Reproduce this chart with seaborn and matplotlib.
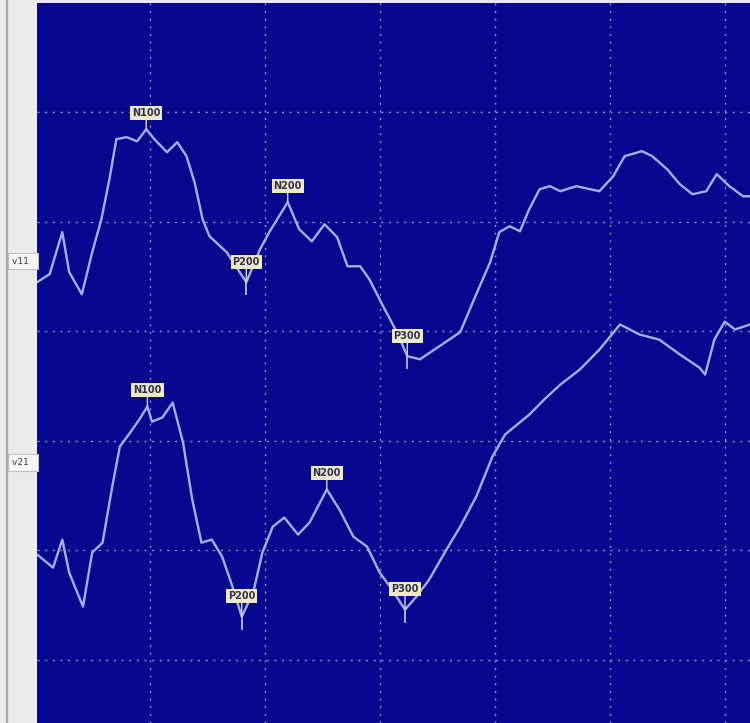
import numpy as np
import pandas as pd
import matplotlib.pyplot as plt
import matplotlib.transforms as mtransforms
from matplotlib.lines import Line2D
import seaborn as sns

# Channel v11: time (ms) and amplitude (uV, negative up)
v11_ms = [2, 13, 24, 30, 41, 50, 58, 65, 71, 80, 89, 97, 104, 115, 124, 132, 139, 146,
          152, 167, 184, 196, 204, 220, 230, 241, 252, 263, 272, 283, 291, 303, 315, 324,
          335, 352, 370, 381, 396, 404, 413, 422, 430, 439, 448, 457, 471, 483, 491, 503,
          513, 528, 537, 550, 561, 572, 584, 593, 604, 616, 622]
v11_uv = [0.96, 0.59, -1.33, 0.50, 1.51, -0.41, -1.92, -3.75, -5.58, -5.67, -5.48, -6.03,
          -5.58, -4.98, -5.44, -4.80, -3.61, -1.92, -1.14, -0.41, 0.96, -0.55, -1.33, -2.70,
          -1.46, -0.91, -1.69, -1.10, 0.23, 0.23, 0.82, 2.06, 3.24, 4.34, 4.48, 3.88, 3.24,
          1.87, 0.05, -1.33, -1.60, -1.37, -2.38, -3.29, -3.43, -3.20, -3.43, -3.29, -3.20,
          -3.88, -4.80, -5.03, -4.80, -4.20, -3.52, -3.06, -3.20, -3.98, -3.43, -2.97, -2.97]

# Channel v21
v21_ms = [2, 16, 24, 30, 42, 50, 59, 67, 74, 83, 91, 98, 102, 111, 120, 129, 137, 145,
          154, 163, 172, 180, 190, 198, 207, 217, 229, 239, 254, 265, 277, 289, 300, 309,
          322, 332, 343, 358, 370, 384, 398, 409, 430, 443, 457, 474, 491, 509, 526, 543,
          561, 578, 583, 591, 600, 609, 622]
v21_uv = [4.20, 4.80, 3.52, 5.03, 6.58, 4.11, 3.66, 1.23, -0.73, -1.37, -1.97, -2.56,
          -1.87, -2.06, -2.74, -0.91, 1.69, 3.66, 3.52, 4.30, 5.67, 7.04, 5.94, 4.11, 2.93,
          2.51, 3.29, 2.74, 1.23, 2.15, 3.38, 3.84, 5.03, 5.67, 6.72, 6.12, 5.35, 3.98,
          2.93, 1.55, -0.27, -1.28, -2.19, -2.88, -3.56, -4.25, -5.16, -6.31, -5.85, -5.62,
          -4.94, -4.34, -4.02, -5.62, -6.44, -6.08, -6.31]

# Peak labels per channel
peak_names = ['N100', 'P200', 'N200', 'P300']
v11_peak_ms = [97, 184, 220, 324]
v21_peak_ms = [98, 180, 254, 322]

channels = ['v11', 'v21']
channel_offset = {'v11': 11.8, 'v21': 21.0}

bg_blue = '#08088e'
trace_col = '#a8acf6'

df = pd.concat([
    pd.DataFrame({'ms': v11_ms, 'uv': v11_uv, 'channel': 'v11'}),
    pd.DataFrame({'ms': v21_ms, 'uv': v21_uv, 'channel': 'v21'}),
], ignore_index=True)
df['y'] = df['uv'] + df['channel'].map(channel_offset)

sns.set_style('white', {'axes.facecolor': bg_blue})
plt.rcParams['font.family'] = ['DejaVu Sans']

fig = plt.figure(figsize=(7.5, 7.23), dpi=100, facecolor='#ebebeb')
ax = fig.add_axes([37 / 750, 0, 713 / 750, 720 / 723])
ax.set_facecolor(bg_blue)

sns.lineplot(data=df, x='ms', y='y', hue='channel', palette=[trace_col, trace_col],
             estimator=None, sort=False, legend=False, linewidth=1.7, ax=ax)

ax.set_xlim(2, 622)
ax.set_ylim(32.9, 0)
ax.set_xticks([100, 200, 300, 400, 500, 600])
ax.set_yticks([5, 10, 15, 20, 25, 30])
ax.grid(True, color='#8c8cc6', linestyle=(0, (1.5, 4)), linewidth=1.0)
ax.tick_params(axis='both', labelleft=False, labelbottom=False, direction='out',
               length=4, color='#e0e0e0', width=1.2)
ax.tick_params(axis='x', length=0)
ax.set_xlabel('')
ax.set_ylabel('')
for s in ax.spines.values():
    s.set_visible(False)

# peak markers
box = dict(boxstyle='square,pad=0.2', facecolor='#ecebc6', edgecolor='none')
for ch, ms_list, uv_list, peaks in [('v11', v11_ms, v11_uv, v11_peak_ms),
                                    ('v21', v21_ms, v21_uv, v21_peak_ms)]:
    for name, pms in zip(peak_names, peaks):
        py = np.interp(pms, ms_list, uv_list) + channel_offset[ch]
        lift = 11 if name.startswith('P') else 8
        ax.annotate(name, xy=(pms, py), xytext=(0, lift), textcoords='offset points',
                    ha='center', va='bottom', fontsize=7, fontweight='bold',
                    color='#303050', bbox=box,
                    arrowprops=dict(arrowstyle='-', color='#d8d8c0', lw=1.0,
                                    shrinkA=0, shrinkB=0))
        if name.startswith('P'):
            ax.vlines(pms, py, py + 0.6, color='#c8c8e0', lw=1.2)

# channel labels in the left margin
trans = mtransforms.blended_transform_factory(ax.transAxes, ax.transData)
for ch in channels:
    ax.text(-0.004, channel_offset[ch], ch + '  ', transform=trans, ha='right', va='center',
            fontsize=6.5, color='#404040',
            bbox=dict(boxstyle='square,pad=0.4', facecolor='#f6f6f6',
                      edgecolor='#c0c0c0', lw=0.8))

fig.add_artist(Line2D([7 / 750, 7 / 750], [0, 1], color='#a8a8a8', lw=1.6,
                      transform=fig.transFigure))

fig.savefig('out.png', dpi=100, facecolor=fig.get_facecolor())
